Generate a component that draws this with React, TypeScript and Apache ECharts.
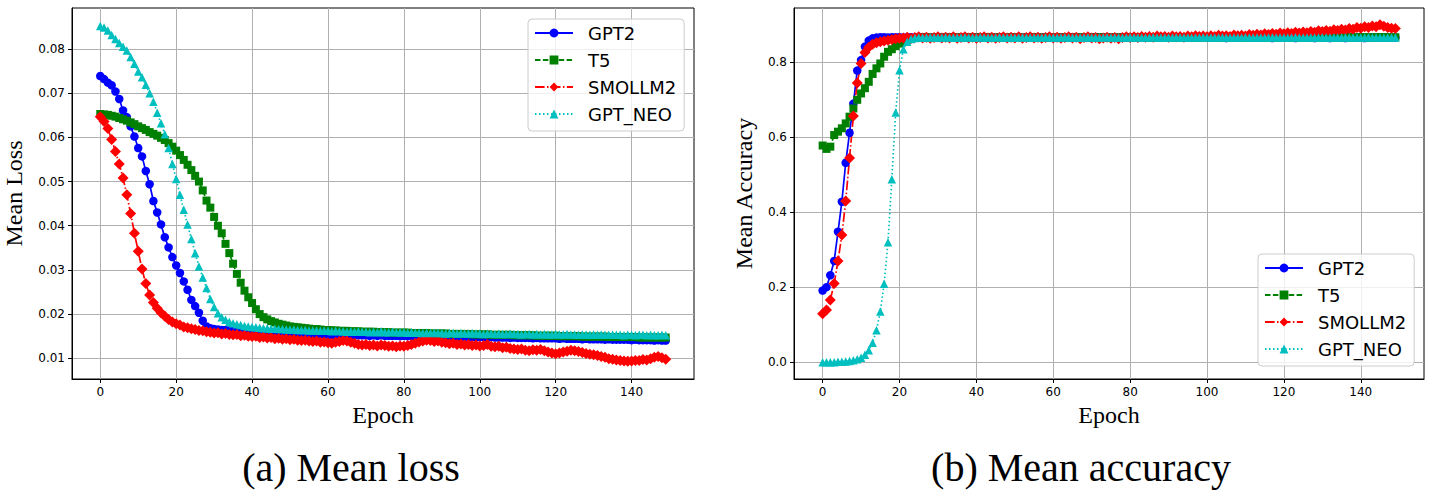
import { useEffect, useRef } from 'react';
import * as echarts from 'echarts';

// Model names shown in both legends
const MODELS = ['GPT2', 'T5', 'SMOLLM2', 'GPT_NEO'];

// Tick values for the axes
const EPOCH_TICKS = [0, 20, 40, 60, 80, 100, 120, 140];
const LOSS_TICKS = [0.01, 0.02, 0.03, 0.04, 0.05, 0.06, 0.07, 0.08];
const ACC_TICKS = [0, 0.2, 0.4, 0.6, 0.8];

// Mean loss per epoch (150 epochs)
const LOSS_GPT2 = [
  0.0739, 0.0732, 0.0724, 0.0718, 0.0704, 0.0687, 0.0661, 0.0646, 0.0625, 0.0602,
  0.0576, 0.0557, 0.0524, 0.0494, 0.0456, 0.0430, 0.0403, 0.0374, 0.0351, 0.0329,
  0.0310, 0.0293, 0.0274, 0.0255, 0.0232, 0.0218, 0.0203, 0.0185, 0.0172, 0.0168,
  0.0166, 0.0165, 0.0164, 0.0164, 0.0163, 0.0163, 0.0162, 0.0162, 0.0161, 0.0161,
  0.0160, 0.0160, 0.0159, 0.0159, 0.0158, 0.0158, 0.0158, 0.0157, 0.0157, 0.0157,
  0.0156, 0.0156, 0.0156, 0.0155, 0.0155, 0.0155, 0.0155, 0.0154, 0.0154, 0.0154,
  0.0153, 0.0153, 0.0153, 0.0152, 0.0153, 0.0152, 0.0153, 0.0152, 0.0152, 0.0152,
  0.0152, 0.0151, 0.0152, 0.0151, 0.0152, 0.0151, 0.0151, 0.0151, 0.0151, 0.0150,
  0.0151, 0.0150, 0.0151, 0.0150, 0.0150, 0.0150, 0.0150, 0.0149, 0.0150, 0.0149,
  0.0149, 0.0149, 0.0150, 0.0149, 0.0149, 0.0148, 0.0149, 0.0148, 0.0148, 0.0148,
  0.0148, 0.0148, 0.0147, 0.0148, 0.0147, 0.0147, 0.0147, 0.0147, 0.0146, 0.0147,
  0.0146, 0.0146, 0.0146, 0.0146, 0.0145, 0.0146, 0.0145, 0.0145, 0.0145, 0.0145,
  0.0145, 0.0144, 0.0145, 0.0144, 0.0144, 0.0144, 0.0144, 0.0143, 0.0144, 0.0143,
  0.0143, 0.0143, 0.0143, 0.0142, 0.0143, 0.0142, 0.0142, 0.0142, 0.0142, 0.0142,
  0.0141, 0.0142, 0.0141, 0.0141, 0.0141, 0.0141, 0.0140, 0.0141, 0.0140, 0.0140,
];

const LOSS_T5 = [
  0.0653, 0.0652, 0.0651, 0.0649, 0.0647, 0.0644, 0.0641, 0.0638, 0.0634, 0.0630,
  0.0625, 0.0621, 0.0617, 0.0612, 0.0608, 0.0604, 0.0599, 0.0594, 0.0587, 0.0579,
  0.0570, 0.0560, 0.0549, 0.0538, 0.0526, 0.0513, 0.0500, 0.0480, 0.0457, 0.0441,
  0.0420, 0.0400, 0.0383, 0.0359, 0.0338, 0.0314, 0.0291, 0.0271, 0.0253, 0.0238,
  0.0225, 0.0211, 0.0200, 0.0193, 0.0188, 0.0184, 0.0181, 0.0178, 0.0176, 0.0174,
  0.0172, 0.0171, 0.0170, 0.0169, 0.0168, 0.0167, 0.0166, 0.0166, 0.0165, 0.0164,
  0.0164, 0.0163, 0.0163, 0.0162, 0.0162, 0.0162, 0.0161, 0.0161, 0.0161, 0.0160,
  0.0160, 0.0160, 0.0160, 0.0159, 0.0159, 0.0159, 0.0159, 0.0158, 0.0158, 0.0158,
  0.0158, 0.0158, 0.0157, 0.0157, 0.0157, 0.0157, 0.0157, 0.0156, 0.0156, 0.0156,
  0.0156, 0.0156, 0.0155, 0.0155, 0.0155, 0.0155, 0.0155, 0.0155, 0.0154, 0.0154,
  0.0154, 0.0154, 0.0154, 0.0153, 0.0153, 0.0153, 0.0153, 0.0153, 0.0153, 0.0152,
  0.0152, 0.0152, 0.0152, 0.0152, 0.0152, 0.0151, 0.0151, 0.0151, 0.0151, 0.0151,
  0.0151, 0.0150, 0.0150, 0.0150, 0.0150, 0.0150, 0.0150, 0.0149, 0.0149, 0.0149,
  0.0149, 0.0149, 0.0149, 0.0149, 0.0148, 0.0148, 0.0148, 0.0148, 0.0148, 0.0148,
  0.0148, 0.0148, 0.0147, 0.0147, 0.0147, 0.0147, 0.0147, 0.0147, 0.0147, 0.0147,
];

const LOSS_SMOLLM2 = [
  0.0647, 0.0636, 0.0620, 0.0595, 0.0568, 0.0540, 0.0508, 0.0470, 0.0428, 0.0383,
  0.0342, 0.0302, 0.0269, 0.0243, 0.0226, 0.0213, 0.0203, 0.0195, 0.0188, 0.0182,
  0.0178, 0.0175, 0.0171, 0.0169, 0.0167, 0.0165, 0.0163, 0.0162, 0.0160, 0.0159,
  0.0157, 0.0158, 0.0155, 0.0156, 0.0154, 0.0153, 0.0154, 0.0151, 0.0152, 0.0150,
  0.0149, 0.0150, 0.0147, 0.0148, 0.0146, 0.0147, 0.0144, 0.0145, 0.0143, 0.0144,
  0.0142, 0.0143, 0.0141, 0.0140, 0.0141, 0.0139, 0.0138, 0.0139, 0.0136, 0.0137,
  0.0135, 0.0134, 0.0136, 0.0138, 0.0140, 0.0139, 0.0136, 0.0134, 0.0131, 0.0130,
  0.0131, 0.0129, 0.0130, 0.0128, 0.0130, 0.0129, 0.0127, 0.0128, 0.0126, 0.0128,
  0.0127, 0.0129, 0.0131, 0.0134, 0.0137, 0.0139, 0.0141, 0.0140, 0.0138, 0.0139,
  0.0136, 0.0135, 0.0133, 0.0134, 0.0131, 0.0132, 0.0130, 0.0131, 0.0129, 0.0130,
  0.0128, 0.0129, 0.0131, 0.0127, 0.0126, 0.0127, 0.0124, 0.0125, 0.0122, 0.0121,
  0.0120, 0.0121, 0.0118, 0.0117, 0.0119, 0.0118, 0.0120, 0.0117, 0.0114, 0.0112,
  0.0110, 0.0112, 0.0114, 0.0116, 0.0118, 0.0117, 0.0115, 0.0113, 0.0111, 0.0109,
  0.0108, 0.0106, 0.0104, 0.0102, 0.0099, 0.0098, 0.0096, 0.0095, 0.0094, 0.0093,
  0.0094, 0.0095, 0.0095, 0.0097, 0.0096, 0.0099, 0.0102, 0.0104, 0.0101, 0.0098,
];

const LOSS_GPT_NEO = [
  0.0852, 0.0849, 0.0842, 0.0832, 0.0823, 0.0814, 0.0805, 0.0797, 0.0782, 0.0767,
  0.0749, 0.0736, 0.0719, 0.0700, 0.0681, 0.0656, 0.0632, 0.0607, 0.0576, 0.0540,
  0.0506, 0.0470, 0.0436, 0.0403, 0.0370, 0.0338, 0.0308, 0.0283, 0.0259, 0.0234,
  0.0216, 0.0202, 0.0193, 0.0187, 0.0182, 0.0179, 0.0177, 0.0175, 0.0173, 0.0172,
  0.0171, 0.0170, 0.0169, 0.0168, 0.0168, 0.0167, 0.0167, 0.0166, 0.0166, 0.0165,
  0.0165, 0.0165, 0.0164, 0.0164, 0.0164, 0.0163, 0.0163, 0.0163, 0.0162, 0.0162,
  0.0162, 0.0161, 0.0162, 0.0161, 0.0161, 0.0160, 0.0161, 0.0160, 0.0161, 0.0160,
  0.0160, 0.0159, 0.0160, 0.0159, 0.0161, 0.0159, 0.0159, 0.0160, 0.0159, 0.0159,
  0.0159, 0.0158, 0.0159, 0.0158, 0.0158, 0.0157, 0.0158, 0.0157, 0.0158, 0.0157,
  0.0157, 0.0156, 0.0157, 0.0157, 0.0156, 0.0157, 0.0156, 0.0156, 0.0157, 0.0156,
  0.0156, 0.0155, 0.0156, 0.0156, 0.0155, 0.0156, 0.0155, 0.0155, 0.0156, 0.0155,
  0.0155, 0.0154, 0.0155, 0.0155, 0.0154, 0.0155, 0.0154, 0.0155, 0.0154, 0.0154,
  0.0155, 0.0154, 0.0154, 0.0155, 0.0154, 0.0154, 0.0153, 0.0154, 0.0154, 0.0153,
  0.0154, 0.0153, 0.0154, 0.0153, 0.0153, 0.0154, 0.0153, 0.0153, 0.0152, 0.0153,
  0.0153, 0.0152, 0.0153, 0.0153, 0.0152, 0.0153, 0.0152, 0.0152, 0.0153, 0.0152,
];

// Mean accuracy per epoch (150 epochs)
const ACC_GPT2 = [
  0.191, 0.200, 0.232, 0.270, 0.348, 0.428, 0.532, 0.612, 0.690, 0.778,
  0.806, 0.842, 0.858, 0.864, 0.866, 0.867, 0.867, 0.866, 0.867, 0.867,
  0.867, 0.866, 0.867, 0.867, 0.866, 0.867, 0.867, 0.867, 0.866, 0.867,
  0.867, 0.867, 0.866, 0.867, 0.867, 0.866, 0.867, 0.867, 0.867, 0.866,
  0.867, 0.866, 0.867, 0.867, 0.867, 0.866, 0.867, 0.867, 0.866, 0.867,
  0.867, 0.867, 0.866, 0.867, 0.866, 0.867, 0.867, 0.867, 0.866, 0.867,
  0.866, 0.867, 0.867, 0.866, 0.867, 0.867, 0.867, 0.866, 0.867, 0.867,
  0.867, 0.866, 0.867, 0.867, 0.866, 0.867, 0.867, 0.866, 0.867, 0.867,
  0.866, 0.867, 0.867, 0.867, 0.866, 0.867, 0.866, 0.867, 0.867, 0.866,
  0.867, 0.867, 0.866, 0.867, 0.867, 0.866, 0.867, 0.867, 0.866, 0.867,
  0.866, 0.867, 0.867, 0.866, 0.867, 0.865, 0.867, 0.866, 0.867, 0.867,
  0.866, 0.867, 0.866, 0.867, 0.867, 0.866, 0.867, 0.865, 0.867, 0.866,
  0.867, 0.866, 0.867, 0.865, 0.867, 0.866, 0.867, 0.866, 0.865, 0.867,
  0.866, 0.867, 0.865, 0.866, 0.867, 0.866, 0.865, 0.867, 0.866, 0.866,
  0.867, 0.865, 0.866, 0.867, 0.866, 0.866, 0.867, 0.866, 0.866, 0.866,
];

const ACC_T5 = [
  0.578, 0.569, 0.575, 0.606, 0.615, 0.624, 0.637, 0.655, 0.677, 0.700,
  0.717, 0.731, 0.748, 0.769, 0.784, 0.797, 0.815, 0.828, 0.835, 0.843,
  0.850, 0.856, 0.860, 0.863, 0.865, 0.866, 0.866, 0.867, 0.866, 0.866,
  0.867, 0.866, 0.866, 0.867, 0.866, 0.867, 0.866, 0.866, 0.867, 0.866,
  0.866, 0.867, 0.866, 0.867, 0.866, 0.866, 0.867, 0.866, 0.866, 0.867,
  0.866, 0.867, 0.866, 0.866, 0.867, 0.866, 0.867, 0.866, 0.866, 0.867,
  0.866, 0.866, 0.867, 0.866, 0.867, 0.866, 0.866, 0.867, 0.866, 0.866,
  0.867, 0.866, 0.867, 0.866, 0.866, 0.867, 0.866, 0.866, 0.867, 0.866,
  0.867, 0.866, 0.866, 0.867, 0.866, 0.866, 0.867, 0.866, 0.867, 0.866,
  0.866, 0.867, 0.866, 0.866, 0.867, 0.866, 0.867, 0.866, 0.866, 0.867,
  0.866, 0.867, 0.866, 0.866, 0.867, 0.866, 0.866, 0.867, 0.866, 0.867,
  0.866, 0.866, 0.867, 0.866, 0.867, 0.866, 0.866, 0.867, 0.866, 0.867,
  0.867, 0.866, 0.867, 0.867, 0.866, 0.867, 0.867, 0.866, 0.867, 0.867,
  0.867, 0.866, 0.867, 0.867, 0.867, 0.866, 0.867, 0.867, 0.867, 0.866,
  0.867, 0.867, 0.867, 0.866, 0.867, 0.867, 0.867, 0.867, 0.866, 0.867,
];

const ACC_SMOLLM2 = [
  0.129, 0.139, 0.166, 0.210, 0.270, 0.339, 0.430, 0.545, 0.657, 0.745,
  0.797, 0.826, 0.840, 0.848, 0.852, 0.855, 0.857, 0.859, 0.861, 0.863,
  0.864, 0.865, 0.867, 0.864, 0.866, 0.868, 0.865, 0.867, 0.864, 0.866,
  0.868, 0.865, 0.867, 0.865, 0.868, 0.864, 0.866, 0.868, 0.865, 0.867,
  0.864, 0.866, 0.868, 0.865, 0.867, 0.864, 0.866, 0.868, 0.865, 0.867,
  0.865, 0.868, 0.864, 0.866, 0.868, 0.865, 0.867, 0.864, 0.866, 0.868,
  0.865, 0.867, 0.864, 0.866, 0.868, 0.865, 0.867, 0.863, 0.866, 0.868,
  0.865, 0.866, 0.863, 0.865, 0.867, 0.864, 0.866, 0.863, 0.866, 0.868,
  0.866, 0.868, 0.866, 0.869, 0.867, 0.869, 0.867, 0.870, 0.868, 0.869,
  0.867, 0.870, 0.868, 0.869, 0.867, 0.870, 0.868, 0.871, 0.869, 0.870,
  0.868, 0.871, 0.869, 0.872, 0.870, 0.871, 0.869, 0.873, 0.871, 0.872,
  0.870, 0.874, 0.872, 0.875, 0.873, 0.876, 0.874, 0.877, 0.875, 0.878,
  0.876, 0.879, 0.877, 0.880, 0.878, 0.881, 0.879, 0.882, 0.880, 0.884,
  0.882, 0.885, 0.883, 0.887, 0.885, 0.888, 0.886, 0.890, 0.888, 0.893,
  0.891, 0.895, 0.893, 0.897, 0.895, 0.900, 0.896, 0.893, 0.891, 0.890,
];

const ACC_GPT_NEO = [
  0.000, 0.000, 0.000, 0.000, 0.001, 0.001, 0.002, 0.003, 0.005, 0.008,
  0.012, 0.020, 0.032, 0.052, 0.085, 0.135, 0.209, 0.320, 0.488, 0.666,
  0.779, 0.835, 0.855, 0.862, 0.865, 0.866, 0.866, 0.866, 0.867, 0.866,
  0.866, 0.866, 0.867, 0.866, 0.866, 0.866, 0.866, 0.867, 0.866, 0.866,
  0.866, 0.867, 0.866, 0.866, 0.866, 0.866, 0.867, 0.866, 0.866, 0.866,
  0.866, 0.866, 0.867, 0.866, 0.866, 0.866, 0.866, 0.866, 0.867, 0.866,
  0.866, 0.866, 0.866, 0.867, 0.866, 0.866, 0.866, 0.866, 0.866, 0.867,
  0.866, 0.866, 0.866, 0.866, 0.867, 0.866, 0.866, 0.866, 0.866, 0.866,
  0.867, 0.866, 0.866, 0.866, 0.866, 0.866, 0.867, 0.866, 0.866, 0.866,
  0.866, 0.866, 0.867, 0.866, 0.866, 0.866, 0.866, 0.866, 0.866, 0.867,
  0.866, 0.866, 0.866, 0.866, 0.867, 0.866, 0.866, 0.866, 0.866, 0.866,
  0.867, 0.866, 0.866, 0.866, 0.866, 0.866, 0.866, 0.867, 0.866, 0.866,
  0.866, 0.866, 0.866, 0.867, 0.866, 0.866, 0.866, 0.866, 0.866, 0.866,
  0.867, 0.866, 0.866, 0.866, 0.866, 0.866, 0.867, 0.866, 0.866, 0.866,
  0.866, 0.866, 0.867, 0.866, 0.866, 0.866, 0.866, 0.866, 0.866, 0.866,
];

const LOSS_SERIES = [LOSS_GPT2, LOSS_T5, LOSS_SMOLLM2, LOSS_GPT_NEO];
const ACC_SERIES = [ACC_GPT2, ACC_T5, ACC_SMOLLM2, ACC_GPT_NEO];

// matplotlib-like per-model style: colour, marker and dash pattern
const STYLES = [
  { color: '#0000ff', symbol: 'circle', size: 8.5, dash: 'solid' as any },
  { color: '#008000', symbol: 'rect', size: 8, dash: [5.5, 2.4] },
  { color: '#ff0000', symbol: 'diamond', size: 11, dash: [9.6, 2.4, 1.5, 2.4] },
  { color: '#00bfbf', symbol: 'triangle', size: 8.5, dash: [1.5, 2.5] },
];

const TICK_FONT = { color: '#000', fontSize: 12, fontFamily: 'DejaVu Sans' };
const NAME_FONT = { color: '#000', fontSize: 24, fontFamily: 'Liberation Serif' };

function xAxisFor(gridIndex: number) {
  return {
    type: 'value',
    gridIndex,
    min: -7.45,
    max: 156.45,
    name: 'Epoch',
    nameLocation: 'middle',
    nameGap: 22,
    nameTextStyle: NAME_FONT,
    axisLine: { show: true, onZero: false, lineStyle: { color: '#000', width: 1 } },
    axisTick: { show: true, length: 4, customValues: EPOCH_TICKS, lineStyle: { color: '#000' } },
    axisLabel: { ...TICK_FONT, margin: 7, customValues: EPOCH_TICKS },
    splitLine: { show: true, lineStyle: { color: '#b0b0b0', width: 1 } },
  };
}

function yAxisFor(gridIndex: number, name: string, min: number, max: number, ticks: number[], digits: number, gap: number) {
  return {
    type: 'value',
    gridIndex,
    min,
    max,
    name,
    nameLocation: 'middle',
    nameRotate: 90,
    nameGap: gap,
    nameTextStyle: NAME_FONT,
    axisLine: { show: true, onZero: false, lineStyle: { color: '#000', width: 1 } },
    axisTick: { show: true, length: 4, customValues: ticks, lineStyle: { color: '#000' } },
    axisLabel: { ...TICK_FONT, margin: 7, customValues: ticks, formatter: (v: number) => v.toFixed(digits) },
    splitLine: { show: true, lineStyle: { color: '#b0b0b0', width: 1 } },
  };
}

function seriesFor(values: number[][], axisIndex: number) {
  return values.map((vals, k) => ({
    type: 'line',
    name: MODELS[k],
    xAxisIndex: axisIndex,
    yAxisIndex: axisIndex,
    data: vals.map((v, i) => [i, v]),
    symbol: STYLES[k].symbol,
    symbolSize: STYLES[k].size,
    showSymbol: true,
    itemStyle: { color: STYLES[k].color },
    lineStyle: { color: STYLES[k].color, width: 1.7, type: STYLES[k].dash },
    emphasis: { disabled: true },
    silent: true,
  }));
}

function legendAt(left: number, top: number) {
  return {
    orient: 'vertical',
    left,
    top,
    data: MODELS,
    selectedMode: false,
    itemWidth: 38,
    itemHeight: 11,
    itemGap: 9,
    padding: [5, 8, 8, 6],
    backgroundColor: 'rgba(255,255,255,0.8)',
    borderColor: '#cccccc',
    borderWidth: 1,
    borderRadius: 4,
    textStyle: { color: '#000', fontSize: 18, fontFamily: 'DejaVu Sans', lineHeight: 18, padding: [0, 0, 0, 10] },
  };
}

export default function App() {
  const ref = useRef<HTMLDivElement>(null);

  useEffect(() => {
    const chart = echarts.init(ref.current!, null, { renderer: 'svg' });
    const gridCommon = {
      show: true,
      borderColor: '#000',
      borderWidth: 1,
      backgroundColor: 'transparent',
      containLabel: false,
      outerBoundsMode: 'none',
    };
    chart.setOption({
      animation: false,
      backgroundColor: '#ffffff',
      grid: [
        { ...gridCommon, left: 72, top: 8, width: 622, height: 371 },
        { ...gridCommon, left: 794, top: 8, width: 630, height: 371 },
      ],
      xAxis: [xAxisFor(0), xAxisFor(1)],
      yAxis: [
        yAxisFor(0, 'Mean Loss', 0.0053, 0.0893, LOSS_TICKS, 2, 46),
        yAxisFor(1, 'Mean Accuracy', -0.045, 0.945, ACC_TICKS, 1, 38),
      ],
      legend: [legendAt(528, 19), legendAt(1258, 254)],
      series: [...seriesFor(LOSS_SERIES, 0), ...seriesFor(ACC_SERIES, 1)],
      graphic: [
        {
          type: 'text',
          x: 351,
          y: 467,
          style: {
            text: '(a) Mean loss',
            font: '40px "Liberation Serif"',
            fill: '#000',
            align: 'center',
            verticalAlign: 'middle',
            textAlign: 'center',
            textVerticalAlign: 'middle',
          },
        },
        {
          type: 'text',
          x: 1081,
          y: 467,
          style: {
            text: '(b) Mean accuracy',
            font: '40px "Liberation Serif"',
            fill: '#000',
            align: 'center',
            verticalAlign: 'middle',
            textAlign: 'center',
            textVerticalAlign: 'middle',
          },
        },
      ],
    } as any);
    return () => chart.dispose();
  }, []);

  return (
    <div
      ref={ref}
      style={{ position: 'fixed', left: 0, top: 0, width: 1433, height: 491, background: '#fff' }}
    />
  );
}
